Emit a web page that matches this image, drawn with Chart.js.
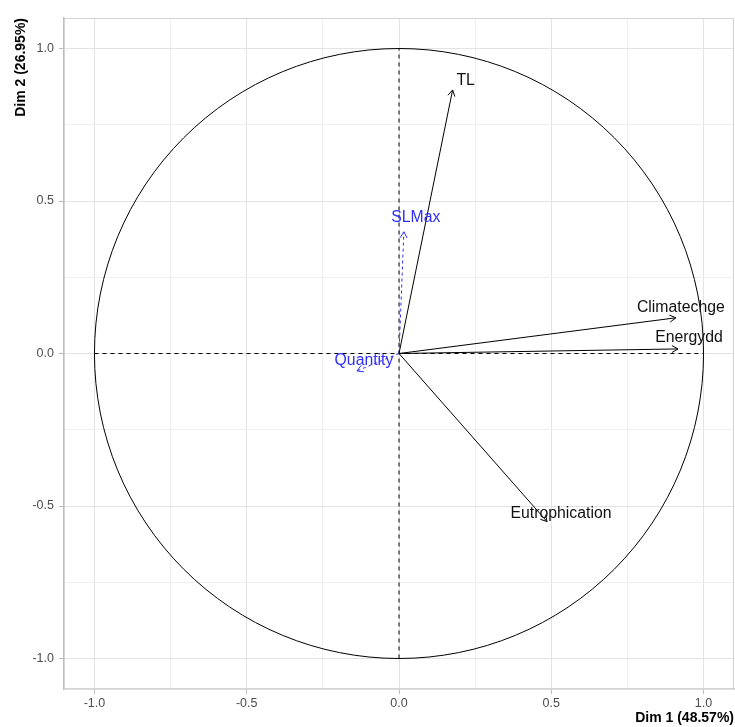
<!DOCTYPE html>
<html>
<head>
<meta charset="utf-8">
<script src="https://cdn.jsdelivr.net/npm/chart.js@4"></script>
<style>
  html, body { margin: 0; padding: 0; background: #fff; }
  #wrap { width: 735px; height: 727px; position: relative; }
</style>
</head>
<body>
<div id="wrap"><canvas id="chart"></canvas></div>
<script>
// === data ===

// variables of the PCA and their coordinates on the two first dimensions
const VARIABLES = ["TL", "SLMax", "Climatechge", "Energydd", "Eutrophication", "Quantity"];
const DIM1 = [0.176, 0.016, 0.909, 0.916, 0.486, -0.138];
const DIM2 = [0.864, 0.399, 0.117, 0.015, -0.551, -0.057];
// supplementary (blue, dashed) variables
const SUPPLEMENTARY = [false, true, false, false, false, true];

// axes
const AXIS_MIN = -1.1;
const AXIS_MAX = 1.1;
const MAJOR_TICKS = [-1, -0.5, 0, 0.5, 1];
const MINOR_TICKS = [-0.75, -0.25, 0.25, 0.75];
const X_TITLE = "Dim 1 (48.57%)";
const Y_TITLE = "Dim 2 (26.95%)";

// guide lines through the origin
const GUIDE_H = [{ x: -1, y: 0 }, { x: 1, y: 0 }];
const GUIDE_V = [{ x: 0, y: -1 }, { x: 0, y: 1 }];
const CIRCLE_RADIUS = 1;

// === styles ===
const ACTIVE_COLOR = "#000000";
const SUP_COLOR = "#2f2fff";
// label offset from arrow tip (px), text is centered there
const LABEL_OFFSET = {
  TL: [13, -9],
  SLMax: [12, -14],
  Climatechge: [5, -10],
  Energydd: [11, -11],
  Eutrophication: [14, -8],
  Quantity: [7, -10],
};

const allTicks = MAJOR_TICKS.concat(MINOR_TICKS).sort((a, b) => a - b);
const isMajor = v => MAJOR_TICKS.some(m => Math.abs(m - v) < 1e-9);

// arrows datasets
const arrowSets = VARIABLES.map((name, i) => ({
  label: name,
  data: [{ x: 0, y: 0 }, { x: DIM1[i], y: DIM2[i] }],
  borderColor: SUPPLEMENTARY[i] ? SUP_COLOR : ACTIVE_COLOR,
  borderWidth: 1,
  borderDash: SUPPLEMENTARY[i] ? [3, 3] : [],
  pointRadius: 0,
  showLine: true,
  arrow: true,
  supp: SUPPLEMENTARY[i],
}));

const guideSets = [GUIDE_H, GUIDE_V].map(d => ({
  label: "guide",
  data: d,
  borderColor: "#000",
  borderWidth: 1,
  borderDash: [4, 4],
  pointRadius: 0,
  showLine: true,
}));

// circle + panel border, drawn under the datasets
const circlePlugin = {
  id: "circle",
  beforeDatasetsDraw(chart) {
    const { ctx, chartArea, scales } = chart;
    const x = scales.x, y = scales.y;
    ctx.save();
    ctx.strokeStyle = "#d4d4d4";
    ctx.lineWidth = 1;
    ctx.strokeRect(chartArea.left + 0.5, chartArea.top + 0.5,
      chartArea.right - chartArea.left - 1, chartArea.bottom - chartArea.top - 1);
    const cx = x.getPixelForValue(0), cy = y.getPixelForValue(0);
    const rx = x.getPixelForValue(CIRCLE_RADIUS) - cx;
    const ry = cy - y.getPixelForValue(CIRCLE_RADIUS);
    ctx.beginPath();
    ctx.ellipse(cx, cy, rx, ry, 0, 0, Math.PI * 2);
    ctx.strokeStyle = "#000";
    ctx.lineWidth = 1;
    ctx.stroke();
    ctx.restore();
  },
};

// arrow heads and labels
const arrowPlugin = {
  id: "arrows",
  afterDatasetsDraw(chart) {
    const { ctx } = chart;
    chart.data.datasets.forEach((ds, i) => {
      if (!ds.arrow) return;
      const pts = chart.getDatasetMeta(i).data;
      const p0 = pts[0], p1 = pts[1];
      const ang = Math.atan2(p1.y - p0.y, p1.x - p0.x);
      const len = 7, spread = Math.PI / 6;
      ctx.save();
      ctx.strokeStyle = ds.borderColor;
      ctx.lineWidth = 1;
      ctx.beginPath();
      ctx.moveTo(p1.x - len * Math.cos(ang - spread), p1.y - len * Math.sin(ang - spread));
      ctx.lineTo(p1.x, p1.y);
      ctx.lineTo(p1.x - len * Math.cos(ang + spread), p1.y - len * Math.sin(ang + spread));
      ctx.stroke();

      const off = LABEL_OFFSET[ds.label] || [0, 0];
      ctx.font = '15.8px "Liberation Sans", Arial, sans-serif';
      ctx.fillStyle = ds.supp ? SUP_COLOR : "#111";
      ctx.textAlign = "center";
      ctx.textBaseline = "middle";
      ctx.fillText(ds.label, p1.x + off[0], p1.y + off[1]);
      ctx.restore();
    });
  },
};

const tickFont = { family: '"Liberation Sans", Arial, sans-serif', size: 12.5 };
const titleFont = { family: '"Liberation Sans", Arial, sans-serif', size: 14, weight: "bold" };

function scaleOpts(axis) {
  return {
    type: "linear",
    min: AXIS_MIN,
    max: AXIS_MAX,
    afterBuildTicks: s => { s.ticks = allTicks.map(v => ({ value: v })); },
    afterFit: s => {
      if (axis === "x") s.height = 38; else s.width = 64;
    },
    ticks: {
      autoSkip: false,
      maxRotation: 0,
      color: "#4d4d4d",
      font: tickFont,
      padding: axis === "x" ? 2 : 5,
      callback: v => (isMajor(v) ? v.toFixed(1) : ""),
    },
    grid: {
      color: ctx => (ctx.tick && isMajor(ctx.tick.value) ? "#e3e3e3" : "#efefef"),
      lineWidth: 1,
      tickLength: 5,
      tickColor: ctx => (ctx.tick && isMajor(ctx.tick.value) ? "#bdbdbd" : "rgba(0,0,0,0)"),
    },
    border: { display: true, color: "#bdbdbd", width: 1.5 },
    title: {
      display: true,
      text: axis === "x" ? X_TITLE : Y_TITLE,
      align: "end",
      color: "#000",
      font: titleFont,
      padding: axis === "x" ? { top: 0, bottom: 0 } : { top: 13, bottom: 13 },
    },
  };
}

new Chart(document.getElementById("chart"), {
  type: "scatter",
  data: { datasets: arrowSets.concat(guideSets) },
  options: {
    responsive: true,
    maintainAspectRatio: false,
    animation: false,
    layout: { padding: { top: 18, right: 1, left: 0, bottom: 0 } },
    plugins: { legend: { display: false }, tooltip: { enabled: false } },
    scales: { x: scaleOpts("x"), y: scaleOpts("y") },
  },
  plugins: [circlePlugin, arrowPlugin],
});
</script>
</body>
</html>
